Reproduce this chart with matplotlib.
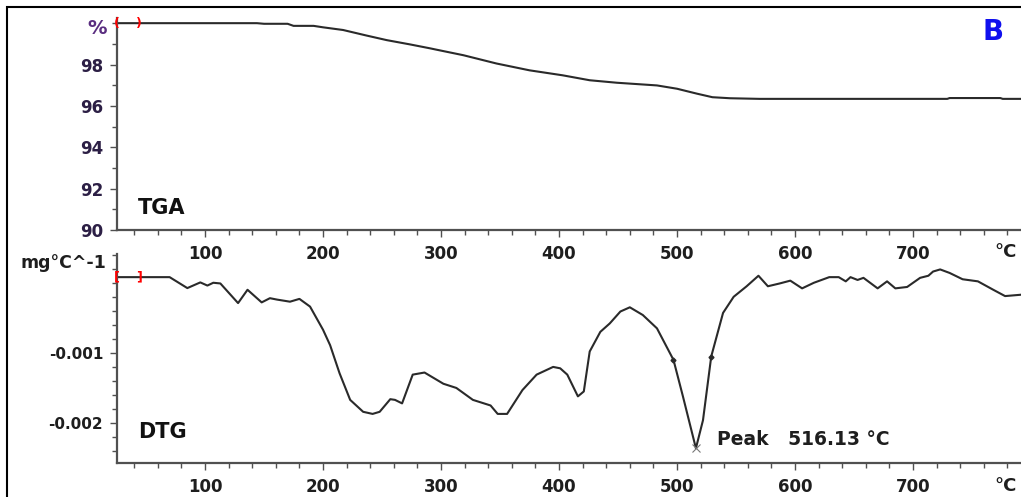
import numpy as np
import matplotlib.pyplot as plt
from matplotlib.patches import Rectangle
from matplotlib.ticker import MultipleLocator

plt.rcParams['font.family'] = ['DejaVu Sans']
plt.rcParams['font.weight'] = 'bold'

# TGA curve (temperature °C, mass %)
tga_t = [25, 144, 150, 170, 175, 192, 200, 217, 237, 254, 274, 291, 296, 319, 347,
         375, 403, 426, 449, 483, 500, 517, 530, 545, 570, 729, 731, 774, 776, 792]
tga_w = [100.0, 100.0, 99.97, 99.97, 99.87, 99.87, 99.8, 99.67, 99.4, 99.18, 98.97,
         98.78, 98.72, 98.45, 98.05, 97.72, 97.48, 97.24, 97.12, 96.99, 96.83, 96.59,
         96.42, 96.37, 96.34, 96.34, 96.38, 96.38, 96.34, 96.34]

# DTG curve (temperature °C, mg/°C)
dtg_t = [25, 70, 85, 96, 102, 107, 113, 128, 136, 148, 155, 161, 172, 180, 189, 200,
         206, 214, 223, 234, 242, 248, 257, 261, 267, 276, 286, 302, 313, 327, 342,
         348, 356, 369, 381, 395, 401, 407, 416, 421, 426, 435, 443, 452, 460, 471,
         483, 497, 505, 516, 522, 529, 539, 548, 559, 569, 577, 587, 596, 606, 616,
         629, 637, 643, 647, 653, 658, 670, 678, 685, 695, 706, 713, 717, 723, 731,
         742, 755, 768, 778, 792]
dtg_v = [0.00008, 0.00008, -0.000076, 0.000005, -0.00004, 0.0, -0.00001, -0.00029,
         -0.0001, -0.00028, -0.00022, -0.00024, -0.00027, -0.00023, -0.00034, -0.00067,
         -0.00089, -0.00129, -0.00167, -0.00184, -0.00187, -0.00184, -0.00166, -0.00167,
         -0.00172, -0.00131, -0.00128, -0.00144, -0.0015, -0.00167, -0.00175, -0.00187,
         -0.00187, -0.00153, -0.00131, -0.0012, -0.00122, -0.00131, -0.00162, -0.00155,
         -0.00098, -0.0007, -0.00058, -0.00041, -0.00035, -0.00046, -0.00065, -0.0011,
         -0.00162, -0.00236, -0.00196, -0.00105, -0.00043, -0.0002, -0.00005, 0.0001,
         -0.00005, -0.00001, 0.00003, -0.00008, 0.0, 0.00008, 0.00008, 0.00002, 0.00008,
         0.00004, 0.00007, -0.00008, 0.00002, -0.00008, -0.00006, 0.00007, 0.0001,
         0.00016, 0.00019, 0.00014, 0.00005, 0.00002, -0.0001, -0.00019, -0.00017]

onset_t = [497, 529]
onset_v = [-0.0011, -0.00106]
peak_t = 516.13
peak_v = -0.00236

x_ticks = [100, 200, 300, 400, 500, 600, 700]
tga_ticks = [90, 92, 94, 96, 98]
dtg_ticks = [-0.002, -0.001]

W, H = 1021, 497
fig = plt.figure(figsize=(W / 100, H / 100), dpi=100)

def px(x0, y0, x1, y1):
    return [x0 / W, 1 - y1 / H, (x1 - x0) / W, (y1 - y0) / H]

ax1 = fig.add_axes(px(117, 18, 1021, 230))
ax2 = fig.add_axes(px(117, 254, 1021, 463))
ax2.patch.set_visible(False)

spine_c = '#505050'
line_c = '#2a2a2a'
lab_c = '#1e1e1e'
tga_lab_c = '#2c1f45'

for ax in (ax1, ax2):
    for s in ('top', 'right'):
        ax.spines[s].set_visible(False)
    for s in ('left', 'bottom'):
        ax.spines[s].set_color(spine_c)
        ax.spines[s].set_linewidth(1.6)
    ax.set_xlim(25.4, 791.5)
    ax.set_xticks(x_ticks)
    ax.xaxis.set_minor_locator(MultipleLocator(20))
    ax.tick_params(axis='both', which='major', direction='out', length=5, width=1,
                   color=spine_c, labelsize=12, labelcolor=lab_c)
    ax.tick_params(axis='both', which='minor', direction='out', length=3.5, width=1,
                   color=spine_c)
    ax.tick_params(axis='x', which='major', pad=6)
    ax.tick_params(axis='y', which='major', pad=5)
    for lbl in ax.get_xticklabels() + ax.get_yticklabels():
        lbl.set_fontweight('bold')

# °C labels at right end of each x axis
fig.text(994 / W, 1 - 252 / H, '°C', ha='left', va='center', fontsize=13,
         fontweight='bold', color=lab_c)
fig.text(994 / W, 1 - 486 / H, '°C', ha='left', va='center', fontsize=13,
         fontweight='bold', color=lab_c)

# TGA panel
ax1.plot(tga_t, tga_w, color=line_c, lw=1.5)
ax1.set_ylim(90, 100.25)
ax1.set_yticks(tga_ticks)
ax1.yaxis.set_minor_locator(MultipleLocator(1))
ax1.tick_params(axis='y', labelcolor=tga_lab_c)
fig.text(107 / W, 1 - 29 / H, '%', ha='right', va='center',
         fontsize=14, fontweight='bold', color='#5a2d80')
ax1.text(-0.003, 100, '(', ha='left', va='center', color='red', fontsize=9,
         transform=ax1.get_yaxis_transform())
ax1.text(44, 100, ')', ha='center', va='center', color='red', fontsize=9)
ax1.text(43, 91.05, 'TGA', fontsize=15, fontweight='bold', color='#111111',
         va='center', ha='left')
fig.text(993 / W, 1 - 32 / H, 'B', ha='center', va='center', fontsize=20,
         fontweight='bold', color='#1010ee')

# DTG panel
ax2.plot(dtg_t, dtg_v, color=line_c, lw=1.5)
ax2.plot(onset_t, onset_v, 'D', color=line_c, ms=2.5)
ax2.plot([peak_t], [peak_v], 'x', color='#777777', ms=6, mew=0.8)
ax2.set_ylim(-0.00257, 0.00041)
ax2.set_yticks(dtg_ticks)
ax2.set_yticklabels(['-0.002', '-0.001'])
ax2.yaxis.set_minor_locator(MultipleLocator(0.0002))
ax2.tick_params(axis='y', labelsize=11)
fig.text(106 / W, 1 - 263 / H, 'mg°C^-1', ha='right', va='center',
         fontsize=12.5, fontweight='bold', color=lab_c)
ax2.text(-0.003, 0.00008, '[', ha='left', va='center', color='red', fontsize=9,
         transform=ax2.get_yaxis_transform())
ax2.text(44, 0.00008, ']', ha='center', va='center', color='red', fontsize=9)
ax2.text(43, -0.00213, 'DTG', fontsize=15, fontweight='bold', color='#111111',
         va='center', ha='left')
ax2.text(534, -0.00223, 'Peak   516.13 °C', fontsize=13.5, fontweight='bold',
         color=lab_c, va='center', ha='left')

# outer frame
fig.add_artist(Rectangle((7 / W, -0.1), 1.2, 1.1 - 7 / H, transform=fig.transFigure,
                         fill=False, ec='black', lw=1.5))

fig.savefig('out.png', dpi=100)
